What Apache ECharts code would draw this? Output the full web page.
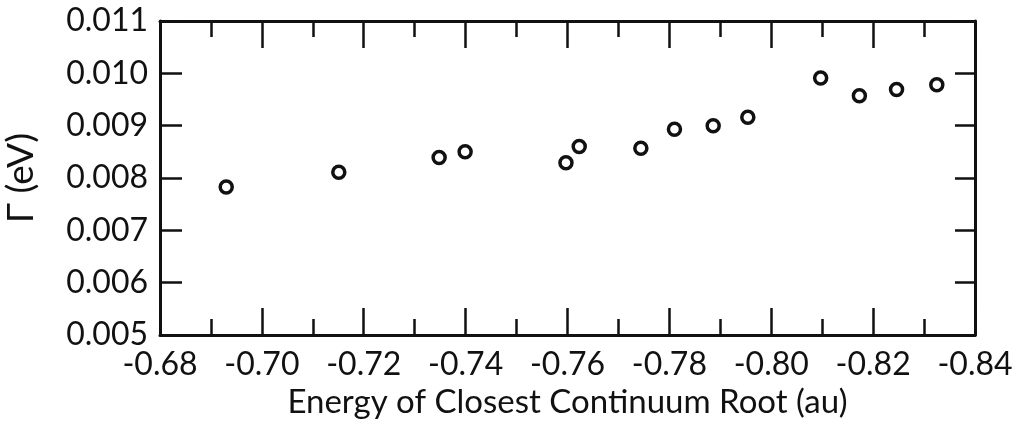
<!DOCTYPE html>
<html>
<head>
<meta charset="utf-8">
<script src="https://cdn.jsdelivr.net/npm/echarts@6/dist/echarts.min.js"></script>
<style>
  html, body { margin: 0; padding: 0; background: #fff; }
  #chart { width: 1022px; height: 435px; }
</style>
</head>
<body>
<div id="chart"></div>
<script>
// Resonance width vs. energy of the closest continuum root
const energies = [-0.6930, -0.7151, -0.7348, -0.7399, -0.7597, -0.7623, -0.7744,
                  -0.7810, -0.7886, -0.7954, -0.8097, -0.8173, -0.8246, -0.8325];
const widths   = [0.00783, 0.00811, 0.00839, 0.00850, 0.00829, 0.00860, 0.00857,
                  0.00893, 0.00900, 0.00916, 0.00991, 0.00957, 0.00969, 0.00978];

const xTicks = { min: -0.84, max: -0.68, step: 0.02 };
const yTicks = { min: 0.005, max: 0.011, step: 0.001 };

const ink = '#111';
const fontFamily = 'Lato, "DejaVu Sans", sans-serif';

const points = energies.map((e, i) => [e, widths[i]]);

const baseX = {
  type: 'value',
  inverse: true,
  min: xTicks.min,
  max: xTicks.max,
  interval: xTicks.step,
  splitLine: { show: false },
  axisLine: { show: true, onZero: false, lineStyle: { color: ink, width: 3 } },
  axisTick: { show: true, inside: true, length: 27, lineStyle: { color: ink, width: 2.5 } },
  minorTick: { show: true, splitNumber: 2, length: 16, lineStyle: { color: ink, width: 2.5 } },
  minorSplitLine: { show: false }
};

const baseY = {
  type: 'value',
  min: yTicks.min,
  max: yTicks.max,
  interval: yTicks.step,
  splitLine: { show: false },
  axisLine: { show: true, onZero: false, lineStyle: { color: ink, width: 3 } },
  axisTick: { show: true, inside: true, length: 22, lineStyle: { color: ink, width: 2.5 } }
};

const chart = echarts.init(document.getElementById('chart'), null, { renderer: 'canvas' });

chart.setOption({
  backgroundColor: '#fff',
  animation: false,
  grid: { left: 160, right: 47, top: 21, bottom: 100, containLabel: false, outerBoundsMode: 'none' },
  xAxis: [
    Object.assign({}, baseX, {
      position: 'bottom',
      name: 'Energy of Closest Continuum Root (au)',
      nameLocation: 'middle',
      nameGap: 42,
      nameTextStyle: { color: ink, fontSize: 33, fontFamily: fontFamily },
      axisLabel: {
        color: ink, fontSize: 32, fontFamily: fontFamily, margin: 14,
        formatter: v => v.toFixed(2)
      }
    }),
    Object.assign({}, baseX, {
      position: 'top',
      axisLabel: { show: false }
    })
  ],
  yAxis: [
    Object.assign({}, baseY, {
      position: 'left',
      name: 'Γ (eV)',
      nameLocation: 'middle',
      nameGap: 120,
      nameTextStyle: { color: ink, fontSize: 37, fontFamily: fontFamily },
      axisLabel: {
        color: ink, fontSize: 32, fontFamily: fontFamily, margin: 12,
        formatter: v => v.toFixed(3)
      }
    }),
    Object.assign({}, baseY, {
      position: 'right',
      axisTick: { show: true, inside: true, length: 20, lineStyle: { color: ink, width: 2.5 } },
      axisLabel: { show: false }
    })
  ],
  series: [{
    type: 'scatter',
    xAxisIndex: 0,
    yAxisIndex: 0,
    data: points,
    symbol: 'circle',
    symbolSize: 12,
    itemStyle: { color: '#fff', borderColor: ink, borderWidth: 3.5, opacity: 1 }
  }]
});
</script>
</body>
</html>
